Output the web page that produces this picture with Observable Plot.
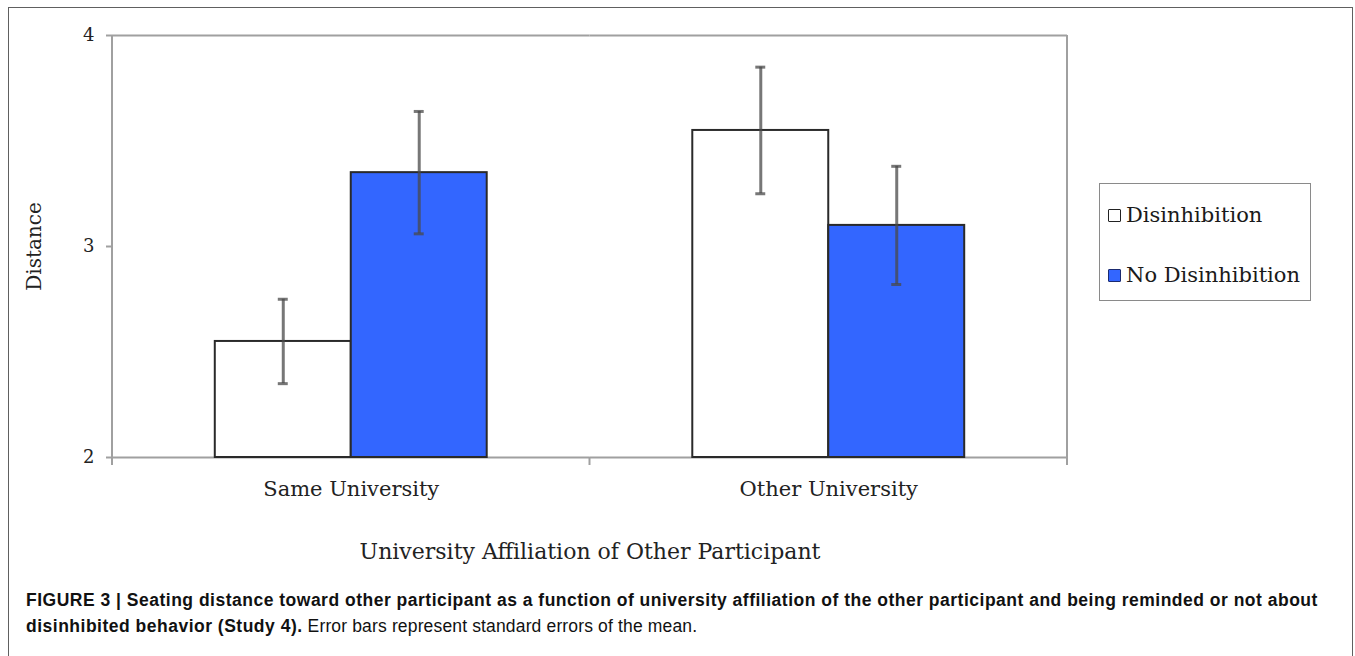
<!DOCTYPE html>
<html><head><meta charset="utf-8">
<script src="https://cdn.jsdelivr.net/npm/d3@7"></script>
<script src="https://cdn.jsdelivr.net/npm/@observablehq/plot@0.6"></script>
<style>
html,body{margin:0;padding:0;background:#fff;overflow:hidden;width:1355px;height:656px}
#border{position:absolute;left:8px;top:7px;width:1345px;height:720px;border:1.5px solid #606060;box-sizing:border-box}
#chart{position:absolute;left:0;top:0}
#legend{position:absolute;left:1099px;top:183px;width:212px;height:118px;border:1.5px solid #8a8a8a;box-sizing:border-box;font-family:"DejaVu Serif";font-size:21px;color:#1a1a1a;background:#fff}
.item{position:absolute;left:8px;display:flex;align-items:center;line-height:24px;white-space:nowrap}
.sw{width:11px;height:11px;border:1.5px solid #222;margin-right:5px;border-radius:1px}
#caption{position:absolute;left:26px;top:587px;font-family:"Liberation Sans",Arial,sans-serif;font-size:17.5px;letter-spacing:0.5px;line-height:26px;color:#111;white-space:nowrap}
#caption span{letter-spacing:0.15px}
#caption b{font-weight:bold}
</style></head>
<body>
<div id="border"></div>
<div id="chart"></div>
<div id="legend"></div>
<div id="caption"><b>FIGURE 3 | Seating distance toward other participant as a function of university affiliation of the other participant and being reminded or not about</b><br><b>disinhibited behavior (Study 4).</b><span> Error bars represent standard errors of the mean.</span></div>
<script>
const groups = ["Same University", "Other University"];
const series = ["Disinhibition", "No Disinhibition"];
const meanSame = [2.55, 3.35];
const meanOther = [3.55, 3.10];
const seSame = [0.20, 0.29];
const seOther = [0.30, 0.28];
const yDomain = [2, 4];
const yTicks = [2, 3, 4];
const colors = ["#ffffff", "#3366ff"];
const xTitle = "University Affiliation of Other Participant";
const yTitle = "Distance";

const means = [meanSame, meanOther];
const ses = [seSame, seOther];
const rows = [];
groups.forEach((g, gi) => series.forEach((s, si) => rows.push({group: g, series: s, mean: means[gi][si], se: ses[gi][si]})));

const gray = "#a0a0a0";
const plot = Plot.plot({
  width: 1355, height: 575,
  marginLeft: 112, marginRight: 288, marginTop: 35, marginBottom: 118,
  style: {fontFamily: "DejaVu Serif", background: "transparent", color: "#222"},
  fx: {domain: groups, padding: 0, round: false},
  x: {domain: series, paddingInner: 0, paddingOuter: 0.756, round: false, axis: null},
  y: {domain: yDomain},
  color: {domain: series, range: colors},
  marks: [
    Plot.ruleY(yDomain, {stroke: gray, strokeWidth: 2}),
    Plot.barY(rows, {fx: "group", x: "series", y1: () => yDomain[0], y2: "mean", fill: "series", stroke: "#2a2a2a", strokeWidth: 2}),
    Plot.ruleX(rows, {fx: "group", x: "series", y1: d => d.mean - d.se, y2: d => d.mean + d.se, stroke: "#4a4a4a", strokeOpacity: 0.75, strokeWidth: 3}),
    Plot.tickY(rows, {fx: "group", x: "series", y: d => d.mean + d.se, stroke: "#4a4a4a", strokeOpacity: 0.75, strokeWidth: 3, insetLeft: 63, insetRight: 63}),
    Plot.tickY(rows, {fx: "group", x: "series", y: d => d.mean - d.se, stroke: "#4a4a4a", strokeOpacity: 0.75, strokeWidth: 3, insetLeft: 63, insetRight: 63}),
    Plot.axisY({ticks: yTicks, tickFormat: d3.format("d"), tickSize: 6, tickPadding: 12, fontSize: 18, stroke: gray, strokeWidth: 2, fill: "#222", label: null}),
    Plot.axisY({ticks: [], label: yTitle, labelArrow: "none", labelAnchor: "center", labelOffset: 86, fontSize: 20, fill: "#222"}),
    Plot.axisFx({anchor: "bottom", tickSize: 0, tickPadding: 24, fontSize: 21, fill: "#222", label: null}),
    Plot.axisFx({anchor: "bottom", ticks: [], label: xTitle, labelArrow: "none", labelAnchor: "center", labelOffset: 101, fontSize: 22, fill: "#222"})
  ]
});
document.getElementById("chart").appendChild(plot);

// frame verticals and boundary ticks from the plot's own scales
const fx = plot.scale("fx"), ys = plot.scale("y");
const bw = fx.bandwidth;
const edges = groups.map(g => fx.apply(g)).concat([fx.apply(groups[groups.length - 1]) + bw]);
const y0 = ys.apply(yDomain[0]), y1 = ys.apply(yDomain[1]);
const g = d3.select(plot).append("g").attr("stroke", gray).attr("stroke-width", 2);
g.append("line").attr("x1", edges[0]).attr("x2", edges[0]).attr("y1", y1).attr("y2", y0);
g.append("line").attr("x1", edges[edges.length - 1]).attr("x2", edges[edges.length - 1]).attr("y1", y1).attr("y2", y0);
edges.forEach(e => g.append("line").attr("x1", e).attr("x2", e).attr("y1", y0).attr("y2", y0 + 8));

// legend
const lg = d3.select("#legend");
series.forEach((s, i) => {
  const it = lg.append("div").attr("class", "item").style("top", (19 + i * 60) + "px");
  it.append("div").attr("class", "sw").style("background", colors[i]).style("border-color", i ? "#1a2a70" : "#222");
  it.append("span").text(s);
});
</script>
</body></html>
